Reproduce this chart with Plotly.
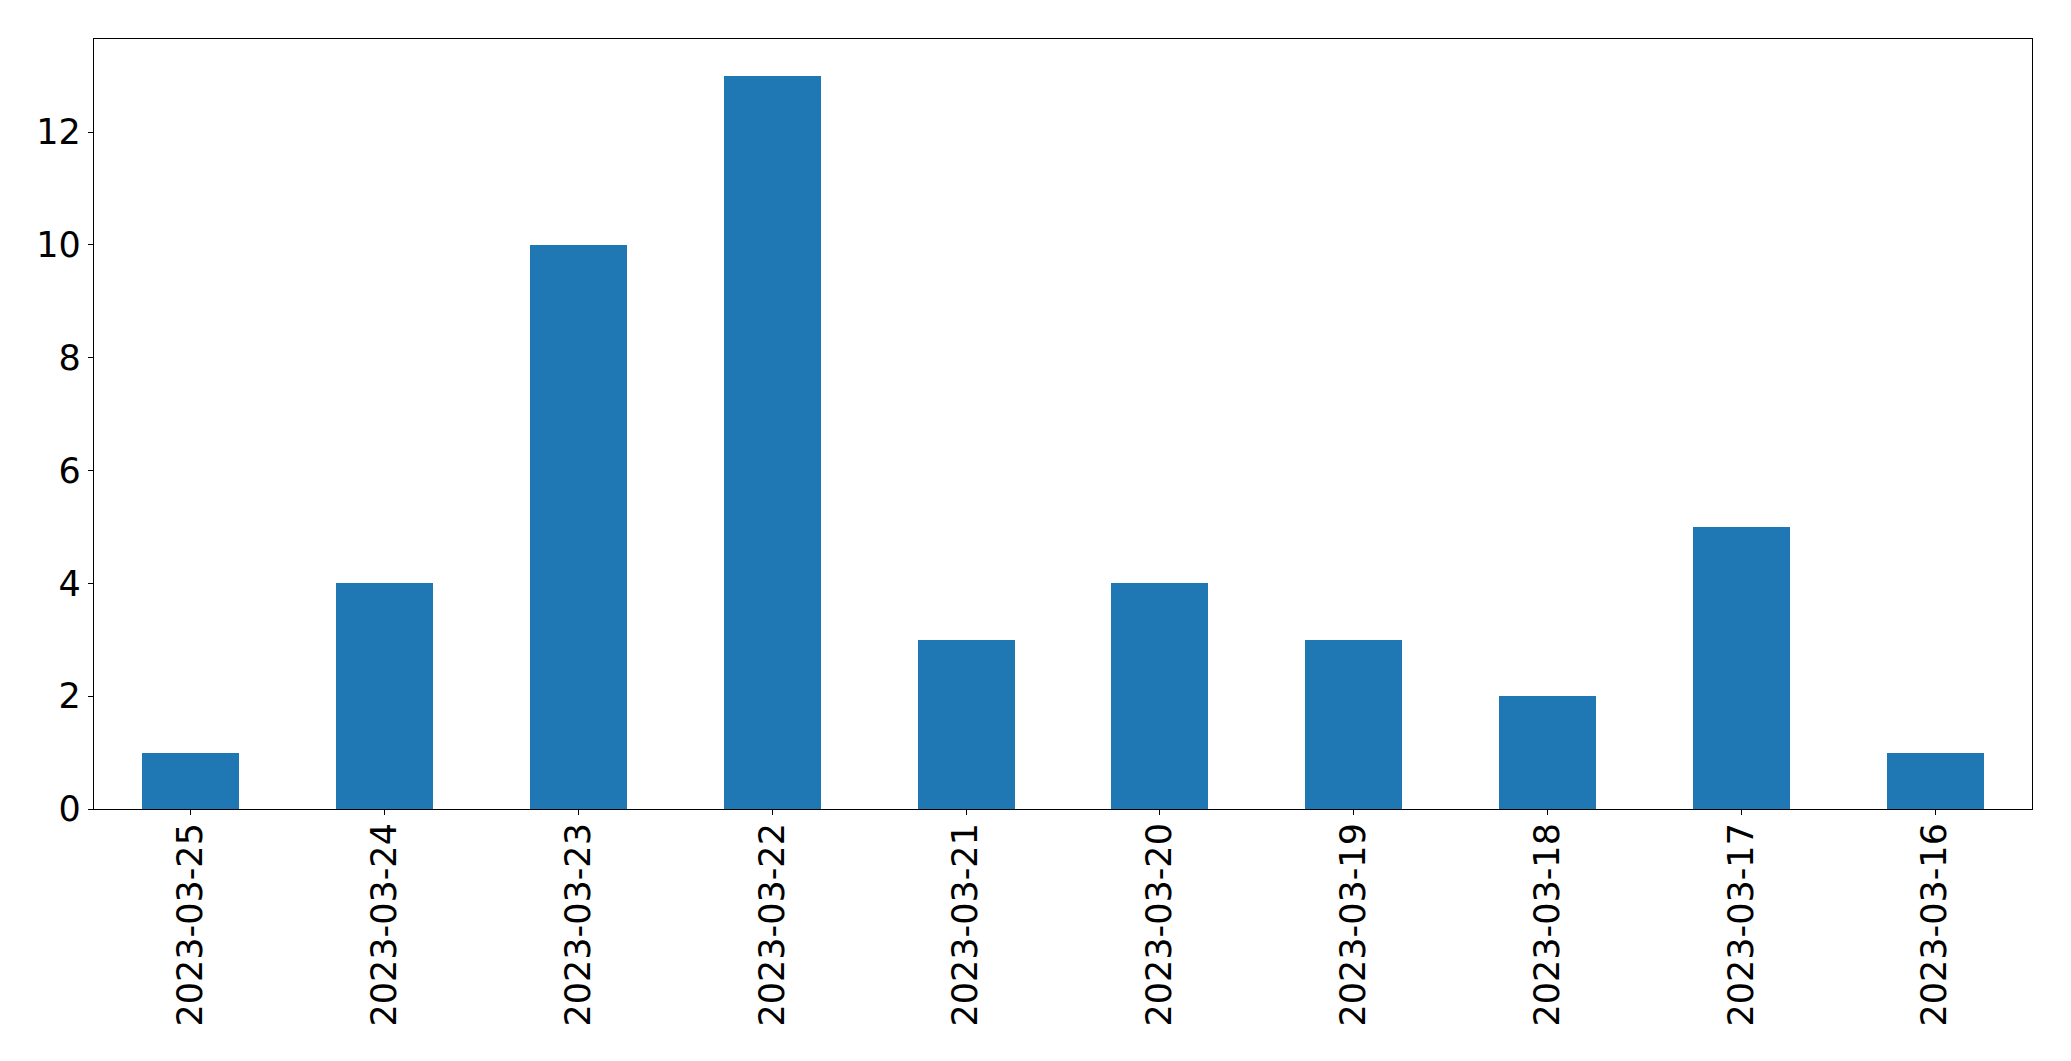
import plotly.graph_objects as go

dates = ["2023-03-25", "2023-03-24", "2023-03-23", "2023-03-22", "2023-03-21",
         "2023-03-20", "2023-03-19", "2023-03-18", "2023-03-17", "2023-03-16"]
counts = [1, 4, 10, 13, 3, 4, 3, 2, 5, 1]

fig = go.Figure(go.Bar(x=dates, y=counts, width=0.5, marker=dict(color="#1f77b4", line=dict(width=0))))

axis_font = dict(family="DejaVu Sans", size=35, color="black")
fig.update_layout(
    width=2071, height=1061,
    margin=dict(l=94, r=39, t=39, b=252, pad=0),
    paper_bgcolor="white", plot_bgcolor="white",
    showlegend=False,
    bargap=0,
    xaxis=dict(type="category", range=[-0.5, 9.5], tickangle=-90, tickfont=axis_font,
               showline=True, linecolor="black", linewidth=1.2, mirror=True,
               ticks="outside", ticklen=5, tickwidth=1.2, tickcolor="black",
               ticklabelstandoff=-6,
               showgrid=False, zeroline=False),
    yaxis=dict(range=[0, 13.65], tickvals=[0, 2, 4, 6, 8, 10, 12], tickfont=axis_font,
               showline=True, linecolor="black", linewidth=1.2, mirror=True,
               ticks="outside", ticklen=5, tickwidth=1.2, tickcolor="black",
               showgrid=False, zeroline=False),
)

fig.write_html("out.html")
